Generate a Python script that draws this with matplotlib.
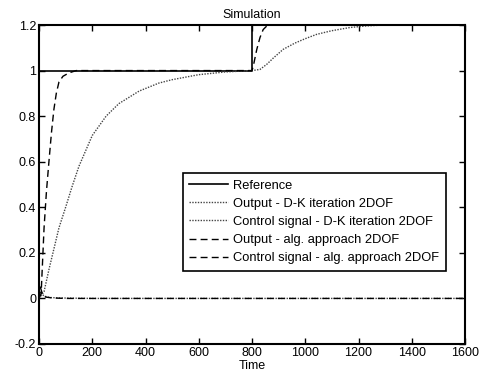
import numpy as np
import matplotlib
matplotlib.use("Agg")
import matplotlib.pyplot as plt

plt.rcParams['font.family'] = ['Liberation Sans', 'DejaVu Sans']

# Reference signal
ref_t = [0, 800, 800, 1600]
ref_y = [1.0, 1.0, 1.2, 1.2]

# Output - D-K iteration 2DOF
dk_t = [0, 19, 38, 75, 100, 124, 150, 200, 252, 300, 376, 450, 500, 600, 700, 800,
        830, 855, 880, 917, 960, 1000, 1043, 1100, 1168, 1230, 1293, 1600]
dk_y = [0.0, 0.03, 0.13, 0.31, 0.40, 0.49, 0.58, 0.715, 0.80, 0.855, 0.91, 0.945, 0.96, 0.982, 0.994, 1.0,
        1.005, 1.027, 1.055, 1.093, 1.12, 1.14, 1.159, 1.175, 1.189, 1.196, 1.2, 1.2]

# Control signal - D-K iteration 2DOF
dku_t = [0, 5, 10, 20, 40, 80, 200, 1600]
dku_y = [0.0, 0.03, 0.02, 0.01, 0.004, 0.002, 0.0, 0.0]

# Output - alg. approach 2DOF
alg_t = [0, 8, 19, 28, 38, 47, 56, 65, 75, 90, 113, 140, 800,
         805, 812, 818, 830, 842, 855, 868, 1600]
alg_y = [0.0, 0.02, 0.31, 0.47, 0.61, 0.73, 0.83, 0.9, 0.95, 0.975, 0.99, 1.0, 1.0,
         1.02, 1.06, 1.093, 1.145, 1.18, 1.195, 1.2, 1.2]

# Control signal - alg. approach 2DOF
algu_t = [0, 5, 10, 15, 25, 50, 100, 1600]
algu_y = [0.0, 0.05, 0.03, 0.015, 0.006, 0.002, 0.0, 0.0]

fig = plt.figure(figsize=(4.81, 3.80), dpi=100)
ax = fig.add_axes([39/481, 1-344/380, 426/481, 319/380])

ax.plot(ref_t, ref_y, color='black', lw=1.2, ls='-', label='Reference')
ax.plot(dk_t, dk_y, color='#444444', lw=1.0, ls=(0, (1, 1)), label='Output - D-K iteration 2DOF')
ax.plot(dku_t, dku_y, color='#444444', lw=1.0, ls=(0, (1, 1)), label='Control signal - D-K iteration 2DOF')
ax.plot(alg_t, alg_y, color='black', lw=1.0, ls=(0, (5, 3)), label='Output - alg. approach 2DOF')
ax.plot(algu_t, algu_y, color='black', lw=1.0, ls=(0, (5, 3)), label='Control signal - alg. approach 2DOF')

ax.set_xlim(0, 1600)
ax.set_ylim(-0.2, 1.2)
ax.set_xticks(np.arange(0, 1601, 200))
ax.set_yticks([-0.2, 0, 0.2, 0.4, 0.6, 0.8, 1, 1.2])
ax.set_yticklabels(['-0.2', '0', '0.2', '0.4', '0.6', '0.8', '1', '1.2'])
ax.tick_params(direction='in', top=True, right=True, labelsize=9, length=4, width=1, pad=2)
for s in ax.spines.values():
    s.set_linewidth(1.5)

ax.set_title('Simulation', fontsize=9, pad=5)
ax.set_xlabel('Time', fontsize=9, labelpad=1)

leg = ax.legend(loc='upper left', bbox_to_anchor=(144/426, 171/319), fontsize=9.3,
                frameon=True, fancybox=False, edgecolor='black', framealpha=1,
                handlelength=3.0, handletextpad=0.4, borderpad=0.5, labelspacing=0.48,
                borderaxespad=0)
leg.get_frame().set_linewidth(1.2)

fig.savefig('out.png', dpi=100)
